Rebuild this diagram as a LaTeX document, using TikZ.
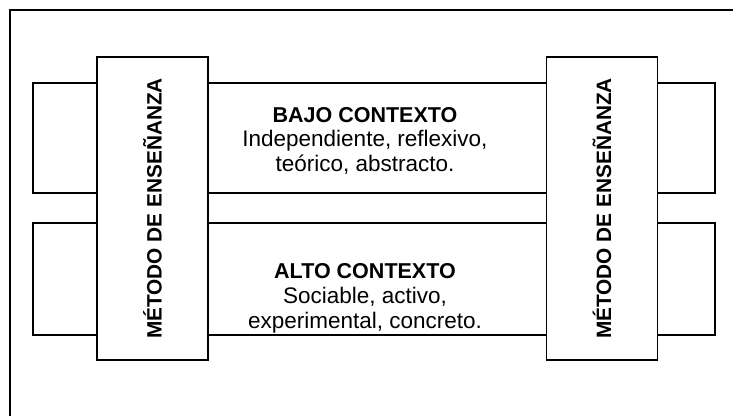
\documentclass[tikz,border=0pt]{standalone}
\usepackage{fontspec}
\setmainfont{Liberation Sans}
\tikzset{
  linea/.style={line width=0.9pt},
  banda/.style={draw, linea, inner sep=0pt, minimum width=17.05cm},
  metodo/.style={draw, linea, fill=white, inner sep=0pt, minimum width=7.575cm,
    minimum height=2.775cm, rotate=90, font=\fontsize{14.8}{17}\selectfont\bfseries},
  texto/.style={align=center, font=\fontsize{16}{17.5}\selectfont}
}
\begin{document}
\begin{tikzpicture}
            \useasboundingbox (0,0) rectangle (18.325,10.4);
            % marco
            \draw[linea] (0.25,0) -- (0.25,10.15) -- (18.325,10.15);
            % bandas
            \node [banda, minimum height=2.75cm] (bajo) at (9.35,6.95) {};
            \node [banda, minimum height=2.8cm]  (alto) at (9.35,3.425) {};
            % metodos
            \node [metodo] (m1) at (3.8125,5.19) {MÉTODO DE ENSEÑANZA};
            \node [metodo] (m2) at (15.05,5.19) {MÉTODO DE ENSEÑANZA};
            % textos
            \node [texto] (tbajo) at (9.125,6.88)  {{\fontsize{15.3}{17.5}\selectfont\bfseries BAJO CONTEXTO}\\Independiente, reflexivo,\\teórico, abstracto.};
            \node [texto] (talto) at (9.125,2.94) {{\fontsize{15.3}{17.5}\selectfont\bfseries ALTO CONTEXTO}\\Sociable, activo,\\experimental, concreto.};
        \end{tikzpicture}
\end{document}
